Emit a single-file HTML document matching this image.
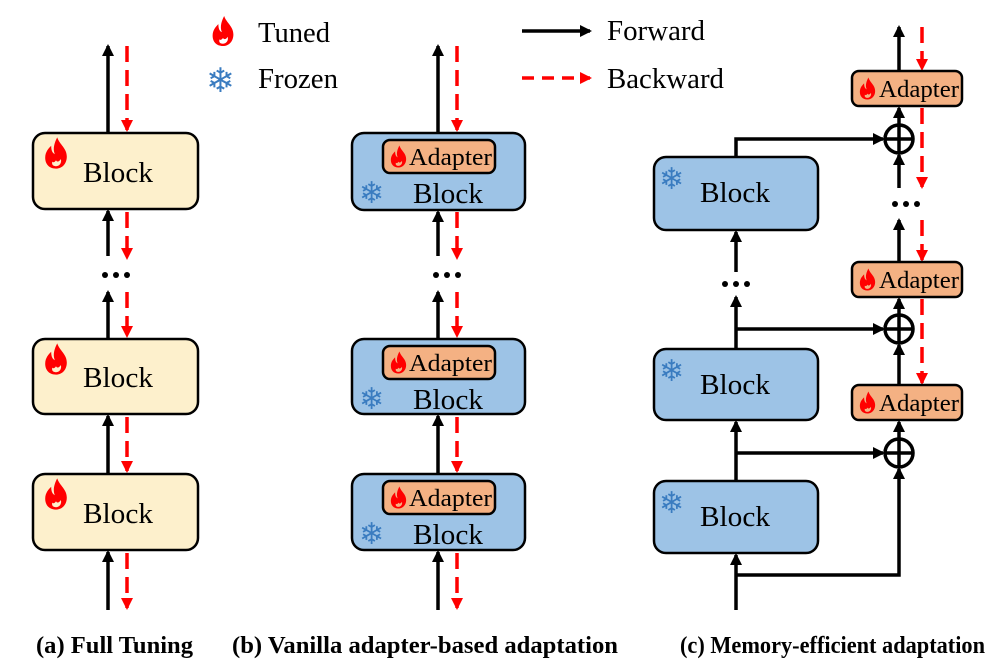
<!DOCTYPE html>
<html><head><meta charset="utf-8"><style>
html,body{margin:0;padding:0;background:#fff}
svg{display:block}
</style></head><body>
<svg width="996" height="662" viewBox="0 0 996 662" xmlns="http://www.w3.org/2000/svg" font-family="Liberation Serif, serif">
<defs>
<marker id="ab" markerWidth="12" markerHeight="12" refX="10" refY="6" orient="auto" markerUnits="userSpaceOnUse"><path d="M0,0 L12,6 L0,12 z" fill="#000"/></marker>
<marker id="ar" markerWidth="12" markerHeight="12" refX="10" refY="6" orient="auto" markerUnits="userSpaceOnUse"><path d="M0,0 L12,6 L0,12 z" fill="#f00"/></marker>
<symbol id="fl" viewBox="0 0 20 26"><path d="M11,0 C13,6 19,9 19,16 C19,22 15,26 10,26 C4,26 1,22 1,17 C1,12 4,9 6,7 C6,11 7,13 9,14 C7,9 9,4 11,0 Z M10,24 C13,24 15,21 14,18 C13,20 11,21 10,19 C9,21 7,21 7,20 C6,23 8,24 10,24Z" fill="#f00" fill-rule="evenodd"/></symbol>
</defs>
<g stroke-width="3.5" fill="none">
<use href="#fl" x="211" y="16" width="24" height="30"/>
<line x1="522" y1="31" x2="590" y2="31" stroke="#000" marker-end="url(#ab)"/>
<line x1="522" y1="78" x2="590" y2="78" stroke="#f00" stroke-dasharray="12,8" marker-end="url(#ar)"/>
</g>
<text x="258" y="42" font-size="28" textLength="72" lengthAdjust="spacingAndGlyphs">Tuned</text>
<text x="206" y="92" font-size="34" fill="#3a7cc0" font-family="DejaVu Sans">❄</text>
<text x="258" y="88" font-size="28" textLength="80" lengthAdjust="spacingAndGlyphs">Frozen</text>
<text x="607" y="40" font-size="28" textLength="98" lengthAdjust="spacingAndGlyphs">Forward</text>
<text x="607" y="88" font-size="28" textLength="117" lengthAdjust="spacingAndGlyphs">Backward</text>

<!-- panel a -->
<g stroke="#000" stroke-width="3.5" fill="none">
<line x1="108" y1="133" x2="108" y2="46" marker-end="url(#ab)"/>
<line x1="108" y1="339" x2="108" y2="292" marker-end="url(#ab)"/>
<line x1="108" y1="256" x2="108" y2="211" marker-end="url(#ab)"/>
<line x1="108" y1="474" x2="108" y2="416" marker-end="url(#ab)"/>
<line x1="108" y1="610" x2="108" y2="552" marker-end="url(#ab)"/>
</g>
<g stroke="#f00" stroke-width="3.5" fill="none" stroke-dasharray="16,8">
<line x1="127" y1="46" x2="127" y2="130" marker-end="url(#ar)"/>
<line x1="127" y1="212" x2="127" y2="258" marker-end="url(#ar)"/>
<line x1="127" y1="292" x2="127" y2="336" marker-end="url(#ar)"/>
<line x1="127" y1="417" x2="127" y2="471" marker-end="url(#ar)"/>
<line x1="127" y1="553" x2="127" y2="608" marker-end="url(#ar)"/>
</g>
<g fill="#000"><circle cx="105" cy="275" r="3"/><circle cx="116" cy="275" r="3"/><circle cx="127" cy="275" r="3"/></g>
<g fill="#fdf0cc" stroke="#000" stroke-width="2.5">
<rect x="33" y="133" width="165" height="76" rx="12"/>
<rect x="33" y="339" width="165" height="75" rx="12"/>
<rect x="33" y="474" width="165" height="76" rx="12"/>
</g>
<use href="#fl" x="44" y="137" width="24" height="32"/>
<use href="#fl" x="44" y="343" width="24" height="32"/>
<use href="#fl" x="44" y="478" width="24" height="32"/>
<g font-size="28">
<text x="83" y="182" textLength="70" lengthAdjust="spacingAndGlyphs">Block</text>
<text x="83" y="387" textLength="70" lengthAdjust="spacingAndGlyphs">Block</text>
<text x="83" y="523" textLength="70" lengthAdjust="spacingAndGlyphs">Block</text>
</g>

<!-- panel b -->
<g stroke="#000" stroke-width="3.5" fill="none">
<line x1="438" y1="133" x2="438" y2="46" marker-end="url(#ab)"/>
<line x1="438" y1="339" x2="438" y2="292" marker-end="url(#ab)"/>
<line x1="438" y1="256" x2="438" y2="212" marker-end="url(#ab)"/>
<line x1="438" y1="474" x2="438" y2="416" marker-end="url(#ab)"/>
<line x1="438" y1="610" x2="438" y2="552" marker-end="url(#ab)"/>
</g>
<g stroke="#f00" stroke-width="3.5" fill="none" stroke-dasharray="16,8">
<line x1="457" y1="46" x2="457" y2="130" marker-end="url(#ar)"/>
<line x1="457" y1="212" x2="457" y2="258" marker-end="url(#ar)"/>
<line x1="457" y1="292" x2="457" y2="336" marker-end="url(#ar)"/>
<line x1="457" y1="417" x2="457" y2="471" marker-end="url(#ar)"/>
<line x1="457" y1="553" x2="457" y2="608" marker-end="url(#ar)"/>
</g>
<g fill="#000"><circle cx="436" cy="275" r="3"/><circle cx="447" cy="275" r="3"/><circle cx="458" cy="275" r="3"/></g>
<g fill="#9dc3e6" stroke="#000" stroke-width="2.5">
<rect x="352" y="133" width="173" height="77" rx="12"/>
<rect x="352" y="339" width="173" height="75" rx="12"/>
<rect x="352" y="474" width="173" height="76" rx="12"/>
</g>
<g fill="#f4b183" stroke="#000" stroke-width="2.5">
<rect x="383" y="140" width="112" height="33" rx="7"/>
<rect x="383" y="346" width="112" height="33" rx="7"/>
<rect x="383" y="481" width="112" height="33" rx="7"/>
</g>
<use href="#fl" x="390" y="145" width="17" height="23"/>
<use href="#fl" x="390" y="351" width="17" height="23"/>
<use href="#fl" x="390" y="486" width="17" height="23"/>
<g font-size="24">
<text x="409" y="165" textLength="83" lengthAdjust="spacingAndGlyphs">Adapter</text>
<text x="409" y="371" textLength="83" lengthAdjust="spacingAndGlyphs">Adapter</text>
<text x="409" y="506" textLength="83" lengthAdjust="spacingAndGlyphs">Adapter</text>
</g>
<g font-size="28">
<text x="413" y="203" textLength="70" lengthAdjust="spacingAndGlyphs">Block</text>
<text x="413" y="409" textLength="70" lengthAdjust="spacingAndGlyphs">Block</text>
<text x="413" y="544" textLength="70" lengthAdjust="spacingAndGlyphs">Block</text>
</g>
<g font-size="30" fill="#3a7cc0" font-family="DejaVu Sans"><text x="359" y="203">❄</text><text x="359" y="409">❄</text><text x="359" y="544">❄</text></g>

<!-- panel c -->
<g stroke="#000" stroke-width="3.5" fill="none">
<line x1="899" y1="71" x2="899" y2="27" marker-end="url(#ab)"/>
<line x1="899" y1="125" x2="899" y2="108" marker-end="url(#ab)"/>
<line x1="899" y1="188" x2="899" y2="155" marker-end="url(#ab)"/>
<line x1="899" y1="262" x2="899" y2="220" marker-end="url(#ab)"/>
<line x1="899" y1="315" x2="899" y2="299" marker-end="url(#ab)"/>
<line x1="899" y1="385" x2="899" y2="345" marker-end="url(#ab)"/>
<line x1="899" y1="439" x2="899" y2="422" marker-end="url(#ab)"/>
<polyline points="736,157 736,139 883,139" marker-end="url(#ab)"/>
<line x1="736" y1="349" x2="736" y2="297" marker-end="url(#ab)"/>
<line x1="736" y1="272" x2="736" y2="232" marker-end="url(#ab)"/>
<line x1="736" y1="329" x2="883" y2="329" marker-end="url(#ab)"/>
<line x1="736" y1="481" x2="736" y2="422" marker-end="url(#ab)"/>
<line x1="736" y1="453" x2="883" y2="453" marker-end="url(#ab)"/>
<line x1="736" y1="610" x2="736" y2="555" marker-end="url(#ab)"/>
<polyline points="736,575 899,575 899,469" marker-end="url(#ab)"/>
<circle cx="899" cy="139" r="14" fill="#fff"/><path d="M885,139 H913 M899,125 V153"/>
<circle cx="899" cy="329" r="14" fill="#fff"/><path d="M885,329 H913 M899,315 V343"/>
<circle cx="899" cy="453" r="14" fill="#fff"/><path d="M885,453 H913 M899,439 V467"/>
</g>
<g stroke="#f00" stroke-width="3.5" fill="none" stroke-dasharray="16,8">
<line x1="922" y1="27" x2="922" y2="69" marker-end="url(#ar)"/>
<line x1="922" y1="108" x2="922" y2="187" marker-end="url(#ar)"/>
<line x1="922" y1="220" x2="922" y2="260" marker-end="url(#ar)"/>
<line x1="922" y1="299" x2="922" y2="383" marker-end="url(#ar)"/>
</g>
<g fill="#000"><circle cx="895" cy="204" r="3"/><circle cx="906" cy="204" r="3"/><circle cx="917" cy="204" r="3"/>
<circle cx="725" cy="284" r="3"/><circle cx="736" cy="284" r="3"/><circle cx="747" cy="284" r="3"/></g>
<g fill="#9dc3e6" stroke="#000" stroke-width="2.5">
<rect x="654" y="157" width="164" height="73" rx="12"/>
<rect x="654" y="349" width="164" height="71" rx="12"/>
<rect x="654" y="481" width="164" height="72" rx="12"/>
</g>
<g font-size="30" fill="#3a7cc0" font-family="DejaVu Sans"><text x="659" y="189">❄</text><text x="659" y="381">❄</text><text x="659" y="513">❄</text></g>
<g font-size="28">
<text x="700" y="202" textLength="70" lengthAdjust="spacingAndGlyphs">Block</text>
<text x="700" y="394" textLength="70" lengthAdjust="spacingAndGlyphs">Block</text>
<text x="700" y="526" textLength="70" lengthAdjust="spacingAndGlyphs">Block</text>
</g>
<g fill="#f4b183" stroke="#000" stroke-width="2.5">
<rect x="852" y="71" width="110" height="35" rx="7"/>
<rect x="852" y="262" width="110" height="35" rx="7"/>
<rect x="852" y="385" width="110" height="35" rx="7"/>
</g>
<use href="#fl" x="859" y="77" width="17" height="23"/>
<use href="#fl" x="859" y="268" width="17" height="23"/>
<use href="#fl" x="859" y="391" width="17" height="23"/>
<g font-size="24">
<text x="879" y="97" textLength="80" lengthAdjust="spacingAndGlyphs">Adapter</text>
<text x="879" y="288" textLength="80" lengthAdjust="spacingAndGlyphs">Adapter</text>
<text x="879" y="411" textLength="80" lengthAdjust="spacingAndGlyphs">Adapter</text>
</g>

<g font-size="24" font-weight="bold">
<text x="36" y="653" textLength="157" lengthAdjust="spacingAndGlyphs">(a) Full Tuning</text>
<text x="232" y="653" textLength="386" lengthAdjust="spacingAndGlyphs">(b) Vanilla adapter-based adaptation</text>
<text x="680" y="653" textLength="305" lengthAdjust="spacingAndGlyphs">(c) Memory-efficient adaptation</text>
</g>
</svg>
</body></html>
